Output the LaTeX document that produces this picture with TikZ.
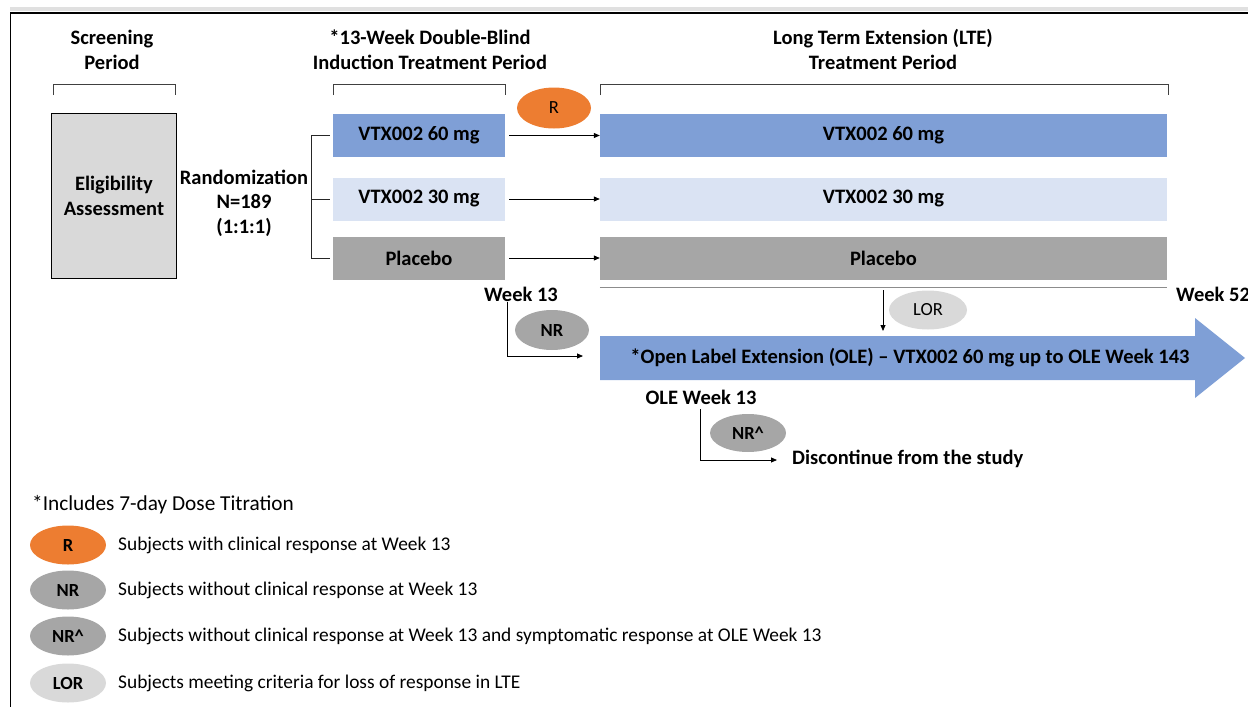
\documentclass[tikz,border=0pt]{standalone}
\usepackage{fontspec}
\setmainfont{Carlito}
\usetikzlibrary{shapes.geometric,arrows.meta}
\definecolor{oblue}{HTML}{7F9FD6}
\definecolor{lblue}{HTML}{DAE3F3}
\definecolor{mgray}{HTML}{A6A6A6}
\definecolor{lgray}{HTML}{D9D9D9}
\definecolor{orng}{HTML}{ED7D31}
\begin{document}
\begin{tikzpicture}[x=1pt,y=-1pt,
  bt/.style={font=\fontsize{20.5}{25}\selectfont\bfseries, align=center, inner sep=0},
  lt/.style={font=\fontsize{19.4}{22}\selectfont, anchor=west, inner sep=0},
  bar/.style={minimum height=43pt, inner sep=0, font=\fontsize{20.5}{25}\selectfont\bfseries},
  oval/.style={ellipse, minimum width=75pt, minimum height=39pt, inner sep=0, font=\fontsize{18.5}{22}\selectfont\bfseries},
  ln/.style={draw=black!85, line width=0.8pt},
  conn/.style={draw=black, line width=0.8pt, -{Triangle[length=6pt,width=5pt]}},
  brk/.style={draw=black!75, line width=0.9pt}
]
\useasboundingbox (0,0) rectangle (1248,707);
% frame
\fill[black!12] (10,7) rectangle (1248,11);
\draw[line width=2pt] (10,12.5) -- (1248,12.5);
\draw[line width=1.3pt] (10.6,12) -- (10.6,707);

% titles
\node[bt] (tscr) at (112,49.5) {Screening\\Period};
\node[bt] (tind) at (430,49.5) {*13-Week Double-Blind\\Induction Treatment Period};
\node[bt] (tlte) at (883,49.5) {Long Term Extension (LTE)\\Treatment Period};

% brackets
\draw[brk] (53,95) -- (53,84) -- (175,84) -- (175,95);
\draw[brk] (333,95) -- (333,84) -- (505,84) -- (505,95);
\draw[brk] (600,95) -- (600,84) -- (1168,84) -- (1168,95);

% eligibility
\node[draw=black, line width=1pt, fill=lgray, minimum width=125pt, minimum height=165pt, inner sep=0,
      font=\fontsize{20.5}{25}\selectfont\bfseries, align=center] (elig) at (114,196) {Eligibility\\Assessment};
\node[bt, font=\fontsize{20.5}{24.5}\selectfont\bfseries] (rand) at (244,203) {Randomization\\N=189\\(1:1:1)};

% induction boxes
\node[bar, fill=oblue, minimum width=172pt] (i60) at (419,135.5) {VTX002 60 mg};
\node[bar, fill=lblue, minimum width=172pt] (i30) at (419,199) {VTX002 30 mg};
\node[bar, fill=mgray, minimum width=172pt] (ipl) at (419,258) {Placebo};

% LTE boxes
\node[bar, fill=oblue, minimum width=567pt] (l60) at (883.5,135.5) {VTX002 60 mg};
\node[bar, fill=lblue, minimum width=567pt] (l30) at (883.5,199) {VTX002 30 mg};
\node[bar, fill=mgray, minimum width=567pt] (lpl) at (883.5,258) {Placebo};

% randomization branches
\draw[ln] ([xshift=-3pt]i60.west) -- ++(-18,0) |- ([xshift=-3pt]ipl.west);
\draw[ln] ([xshift=-3pt]i30.west) -- ++(-18,0);

% arrows induction -> LTE
\draw[conn] ([xshift=4pt]i60.east) -- (l60.west);
\draw[conn] ([xshift=4pt]i30.east) -- (l30.west);
\draw[conn] ([xshift=4pt]ipl.east) -- (lpl.west);

% R oval
\node[oval, fill=orng, minimum width=74pt, minimum height=41pt] (rov) at (554,108) {\fontseries{m}\selectfont R};

% LTE end line
\coordinate (ulA) at ([yshift=-7.5pt]lpl.south west);
\coordinate (ulB) at ([yshift=-7.5pt]lpl.south east);
\draw[draw=black!45, line width=0.9pt] (ulA) -- (ulB);
\node[bt] (w13) at (521,294) {Week 13};
\node[bt, anchor=west] (w52) at (1176,294) {Week 52};

% OLE arrow
\fill[oblue] (600,336) -- (1195,336) -- (1195,318) -- (1245,358) -- (1195,398) -- (1195,380) -- (600,380) -- cycle;
\node[bt] (ole) at (910,358) {*Open Label Extension (OLE) -- VTX002 60 mg up to OLE Week 143};

% LOR
\coordinate (lorA) at (883,290);
\coordinate (lorB) at (883,331);
\draw[conn] (lorA) -- (lorB);
\node[oval, fill=lgray, minimum width=78pt] (lor) at (928,310) {\fontseries{m}\selectfont LOR};

% NR
\coordinate (nrA) at (507,302);
\coordinate (nrB) at (583,356);
\draw[conn] (nrA) |- (nrB);
\node[oval, fill=mgray, minimum width=74pt, minimum height=40pt] (nr) at (552,330) {NR};

% OLE week 13
\node[bt] (olew) at (701,397) {OLE Week 13};
\coordinate (nrcA) at (700,409);
\coordinate (nrcB) at (777,460);
\draw[conn] (nrcA) |- (nrcB);
\node[oval, fill=mgray, minimum width=76pt, minimum height=38pt] (nrc) at (748,433) {NR\textasciicircum};
\node[bt, anchor=west] (disc) at (792,459) {Discontinue from the study};

% legend
\node[lt, font=\fontsize{21.3}{24}\selectfont] (foot) at (32,505) {*Includes 7-day Dose Titration};
\node[oval, fill=orng, minimum width=76pt, minimum height=39pt] (lgR) at (68,545) {R};
\node[lt] (lgRt) at (118,545) {Subjects with clinical response at Week 13};
\node[oval, fill=mgray, minimum width=76pt, minimum height=39pt] (lgNR) at (68,590) {NR};
\node[lt] (lgNRt) at (118,590) {Subjects without clinical response at Week 13};
\node[oval, fill=mgray, minimum width=76pt, minimum height=39pt] (lgNRc) at (68,636) {NR\textasciicircum};
\node[lt] (lgNRct) at (118,636) {Subjects without clinical response at Week 13 and symptomatic response at OLE Week 13};
\node[oval, fill=lgray, minimum width=76pt, minimum height=39pt] (lgLOR) at (68,683) {LOR};
\node[lt] (lgLORt) at (118,683) {Subjects meeting criteria for loss of response in LTE};
\end{tikzpicture}
\end{document}
